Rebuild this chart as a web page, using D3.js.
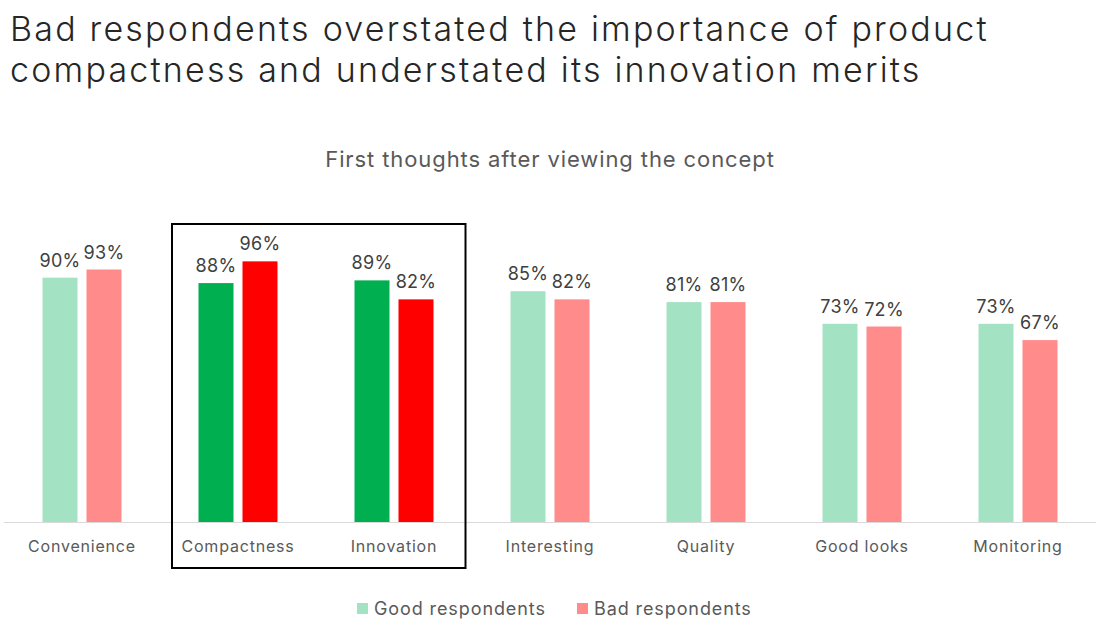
<!DOCTYPE html>
<html>
<head>
<meta charset="utf-8">
<script src="https://cdn.jsdelivr.net/npm/d3@7"></script>
<style>
  body { margin: 0; background: #fff; }
  text { font-family: Inter, "Noto Sans", sans-serif; }
</style>
</head>
<body>
<div id="chart"></div>
<script>
// data
var categories = ["Convenience", "Compactness", "Innovation", "Interesting", "Quality", "Good looks", "Monitoring"];
var goodValues = [90, 88, 89, 85, 81, 73, 73];
var badValues  = [93, 96, 82, 82, 81, 72, 67];
var highlighted = ["Compactness", "Innovation"];
var seriesNames = ["Good respondents", "Bad respondents"];
var titleLines = ["Bad respondents overstated the importance of product",
                  "compactness and understated its innovation merits"];
var subtitle = "First thoughts after viewing the concept";

var W = 1108, H = 642;
var baseline = 522;

var svg = d3.select("#chart")
  .append("svg")
    .attr("width", W)
    .attr("height", H);

// title
svg.selectAll(".title")
  .data(titleLines)
  .enter().append("text")
    .attr("class", "title")
    .attr("x", 10)
    .attr("y", function(d, i) { return 41 + i * 41; })
    .style("font-size", "34px")
    .style("font-weight", 300)
    .style("letter-spacing", "2.2px")
    .style("fill", "#262626")
    .text(function(d) { return d; });

svg.append("text")
  .attr("x", 550)
  .attr("y", 167)
  .attr("text-anchor", "middle")
  .style("font-size", "22px")
  .style("letter-spacing", "0.9px")
  .style("fill", "#595959")
  .text(subtitle);

// scales
var x = d3.scaleBand()
  .domain(categories)
  .range([4, 1096]);

var xSub = d3.scaleBand()
  .domain(["good", "bad"])
  .range([x.bandwidth() / 2 - 39.5, x.bandwidth() / 2 + 39.5])
  .paddingInner(9 / 44);

var y = d3.scaleLinear()
  .domain([0, 100])
  .range([baseline, baseline - 271.5]);

var rows = categories.map(function(c, i) {
  return { cat: c, good: goodValues[i], bad: badValues[i] };
});

function barColor(cat, key) {
  var hi = highlighted.indexOf(cat) >= 0;
  if (key === "good") return hi ? "#00b050" : "#a3e3c4";
  return hi ? "#ff0000" : "#ff8b8b";
}

var groups = svg.selectAll(".cat")
  .data(rows)
  .enter().append("g")
    .attr("class", "cat")
    .attr("transform", function(d) { return "translate(" + x(d.cat) + ",0)"; });

var bars = groups.selectAll("g.bar")
  .data(function(d) {
    return ["good", "bad"].map(function(k) { return { cat: d.cat, key: k, value: d[k] }; });
  })
  .enter().append("g")
    .attr("class", "bar");

bars.append("rect")
  .attr("x", function(d) { return xSub(d.key); })
  .attr("width", xSub.bandwidth())
  .attr("y", function(d) { return y(d.value); })
  .attr("height", function(d) { return baseline - y(d.value); })
  .style("fill", function(d) { return barColor(d.cat, d.key); });

bars.append("text")
  .attr("x", function(d) { return xSub(d.key) + xSub.bandwidth() / 2; })
  .attr("y", function(d) { return y(d.value) - 11; })
  .attr("text-anchor", "middle")
  .style("font-size", "18px")
  .style("letter-spacing", "0.3px")
  .style("fill", "#404040")
  .text(function(d) { return d.value + "%"; });

// axis line + category labels
svg.append("line")
  .attr("x1", 4).attr("x2", 1096)
  .attr("y1", baseline + 0.5).attr("y2", baseline + 0.5)
  .style("stroke", "#d9d9d9")
  .style("stroke-width", 1);

svg.selectAll(".catlabel")
  .data(categories)
  .enter().append("text")
    .attr("class", "catlabel")
    .attr("x", function(d) { return x(d) + x.bandwidth() / 2; })
    .attr("y", 552)
    .attr("text-anchor", "middle")
    .style("font-size", "16px")
    .style("letter-spacing", "0.8px")
    .style("fill", "#595959")
    .text(function(d) { return d; });

// box around highlighted categories
var hx0 = x(highlighted[0]) + 12;
var hx1 = x(highlighted[highlighted.length - 1]) + x.bandwidth() - 6.5;
svg.append("rect")
  .attr("x", hx0)
  .attr("y", y(100) - 26.5)
  .attr("width", hx1 - hx0)
  .attr("height", 344)
  .style("fill", "none")
  .style("stroke", "#000")
  .style("stroke-width", 2);

// legend
var legendX = [357, 577];
var legendColors = ["#a3e3c4", "#ff8b8b"];
var legend = svg.selectAll(".legend")
  .data(seriesNames)
  .enter().append("g")
    .attr("class", "legend")
    .attr("transform", function(d, i) { return "translate(" + legendX[i] + ",603)"; });

legend.append("rect")
  .attr("width", 11).attr("height", 11)
  .style("fill", function(d, i) { return legendColors[i]; });

legend.append("text")
  .attr("x", 17)
  .attr("y", 11.5)
  .style("font-size", "18px")
  .style("letter-spacing", "0.9px")
  .style("fill", "#595959")
  .text(function(d) { return d; });
</script>
</body>
</html>
